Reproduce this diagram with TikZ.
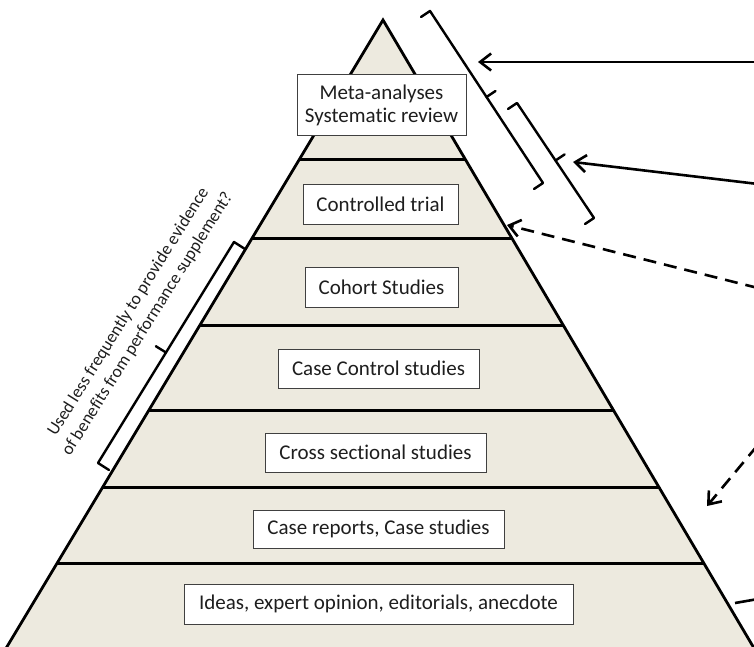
\documentclass[tikz,border=0pt]{standalone}
\usepackage{fontspec}
\setmainfont[Ligatures={NoCommon}]{Carlito}
\usetikzlibrary{arrows.meta}
\definecolor{pyrfill}{RGB}{237,234,223}
\definecolor{txt}{RGB}{30,30,30}
\begin{document}
\begin{tikzpicture}[x=1pt,y=-1pt,
  edge/.style={line width=2.8pt,line join=miter},
  layer/.style={line width=3pt},
  lvlbox/.style={draw=black!75,line width=1pt,fill=white,text=txt,
    font=\fontsize{21}{22.5}\selectfont,inner sep=0pt,align=center},
  brk/.style={line width=2.4pt,line join=round,line cap=round},
  arr/.style={line width=2.6pt,-{Straight Barb[length=11pt,width=17pt]}},
  darr/.style={arr,dash pattern=on 13pt off 8pt},
]
\useasboundingbox (0,0) rectangle (754,647);
% pyramid
\coordinate (apex) at (383,20);
\coordinate (bl) at (-1,660);
\coordinate (br) at (761,660);
\fill[pyrfill] (apex) -- (bl) -- (br) -- cycle;
\begin{scope}
  \clip (apex) -- (bl) -- (br) -- cycle;
  \foreach \yy in {160,238,325,410,487,563} \draw[layer] (0,\yy) -- (754,\yy);
\end{scope}
\draw[edge] (bl) -- (apex) -- (br);
% level boxes
\node[lvlbox,minimum width=169pt,minimum height=61pt] (meta) at (381.5,105.5) {Meta-analyses\\Systematic review};
\node[lvlbox,minimum width=155pt,minimum height=40pt] (ctrl) at (380.5,204) {Controlled trial};
\node[lvlbox,minimum width=153pt,minimum height=40pt] (cohort) at (381.5,287) {Cohort Studies};
\node[lvlbox,minimum width=201pt,minimum height=39pt] (casectrl) at (378.5,368.5) {Case Control studies};
\node[lvlbox,minimum width=221pt,minimum height=39pt] (cross) at (375.5,452.5) {Cross sectional studies};
\node[lvlbox,minimum width=251pt,minimum height=38pt] (reports) at (378.5,529) {Case reports, Case studies};
\node[lvlbox,minimum width=389pt,minimum height=40pt] (ideas) at (378.5,604) {Ideas, expert opinion, editorials, anecdote};
% right brackets
\draw[brk] (421,17) -- (430,11) -- (543,183) -- (534,189);
\draw[brk] (486.5,97) -- (495.5,91);
\draw[brk] (508,109) -- (517,103) -- (594,218) -- (585,224);
\draw[brk] (555.5,160.5) -- (564.6,154.4);
% left bracket
\draw[brk] (245,249) -- (234,242) -- (98,463) -- (109,470);
\draw[brk] (166,352.5) -- (155.8,346.2);
\node[rotate=58,align=center,text=txt,font=\fontsize{17.5}{22.5}\selectfont,inner sep=0pt] (note) at (138,318)
  {Used less frequently to provide evidence\\of benefits from performance supplement?};
% arrows
\coordinate (a1s) at (758,62);   \coordinate (a1e) at (478,62);
\coordinate (a2s) at (758,184);  \coordinate (a2e) at (573,162);
\coordinate (a3s) at (758,288);  \coordinate (a3e) at (507,225);
\coordinate (a4s) at (757,446);  \coordinate (a4e) at (707,506);
\coordinate (a5s) at (758,599);  \coordinate (a5e) at (735,603);
\draw[arr] (a1s) -- (a1e);
\draw[arr] (a2s) -- (a2e);
\draw[darr] (a3s) -- (a3e);
\draw[darr] (a4s) -- (a4e);
\draw[line width=2.6pt] (a5s) -- (a5e);
\end{tikzpicture}
\end{document}
